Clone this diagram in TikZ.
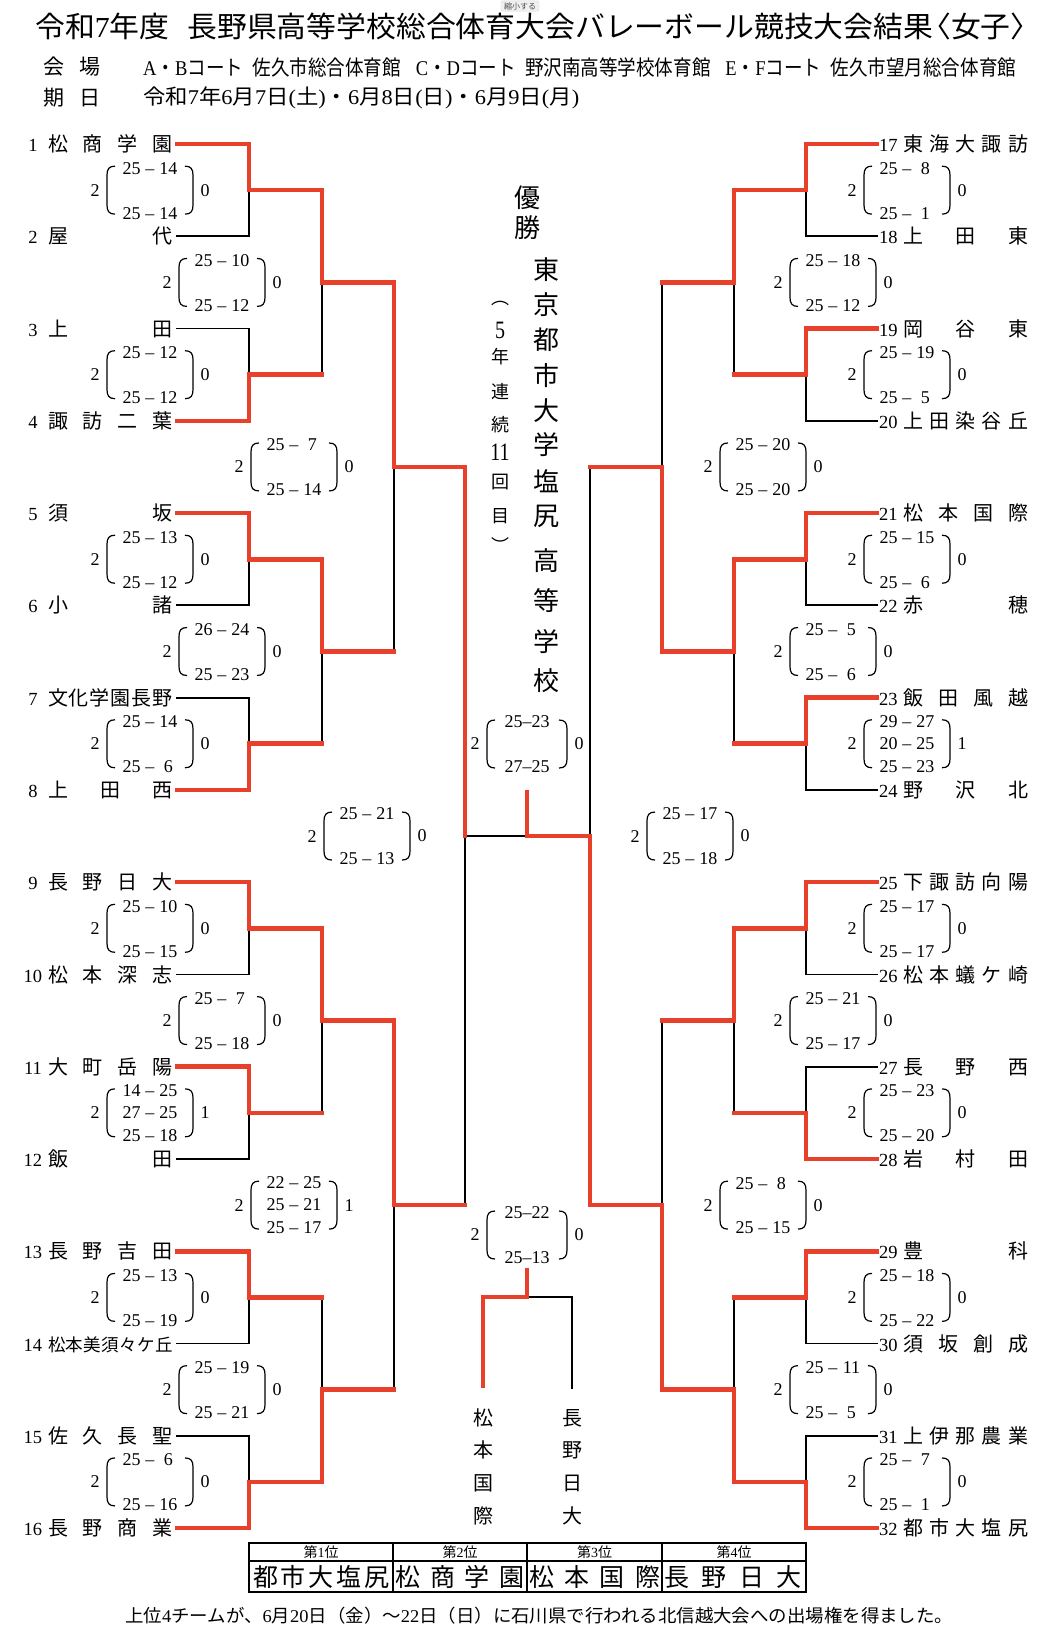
\documentclass[tikz,border=0pt]{standalone}
\usepackage{fontspec}
\usepackage{graphicx}
\setmainfont{Noto Sans CJK JP}
\newfontfamily\lat{Liberation Serif}
\usetikzlibrary{calc}
\definecolor{wred}{HTML}{E8402A}
\newcommand\tnum[1]{\makebox[20pt][c]{\lat\fontsize{18.5}{20}\selectfont #1}}
\newcommand\tnumr[1]{\makebox[20pt][l]{\lat\fontsize{18.5}{20}\selectfont #1}}
\newcommand\tname[1]{\makebox[125pt][s]{#1}}
\newcommand\sset[2]{\makebox[1em][c]{#1}\hspace{5pt}–\hspace{5pt}\makebox[1em][c]{#2}}
\def\po{43}\def\no{55}
\newcommand\parens{%
 \draw[paren] (-\po+8,-24) .. controls (-\po+2,-24) and (-\po,-21) .. (-\po,-15) -- (-\po,15) .. controls (-\po,21) and (-\po+2,24) .. (-\po+8,24);
 \draw[paren] (\po-8,-24) .. controls (\po-2,-24) and (\po,-21) .. (\po,-15) -- (\po,15) .. controls (\po,21) and (\po-2,24) .. (\po-8,24);}
\newcommand\scoreB[6]{\begin{scope}[shift={(#2,#3)}]
 \node[sc] (#1a) at (0,-22) {#4};
 \node[sc] (#1b) at (0,23) {#5};
 \node[sc] (#1l) at (-\no,0) {2};
 \node[sc] (#1r) at (\no,0) {#6};
 \parens
\end{scope}}
\newcommand\scoreC[7]{\begin{scope}[shift={(#2,#3)}]
 \node[sc] (#1a) at (0,-22) {#4};
 \node[sc] (#1b) at (0,0) {#5};
 \node[sc] (#1c) at (0,23) {#6};
 \node[sc] (#1l) at (-\no,0) {2};
 \node[sc] (#1r) at (\no,0) {#7};
 \parens
\end{scope}}
\tikzset{
 win/.style={draw=wred, line width=4.6pt, line cap=rect, line join=miter},
 lose/.style={draw=black, line width=1.8pt, line cap=rect},
 teamL/.style={anchor=east, inner xsep=4pt, inner ysep=0pt, outer sep=0pt, text height=16.6pt, text depth=1.4pt, font=\fontsize{20}{24}\selectfont},
 teamR/.style={anchor=west, inner xsep=2pt, inner ysep=0pt, outer sep=0pt, text height=16.6pt, text depth=1.4pt, font=\fontsize{20}{24}\selectfont},
 sc/.style={font=\lat\fontsize{18}{20}\selectfont, inner sep=0pt},
 paren/.style={draw=black, line width=1.2pt},
 vt/.style={font=\fontsize{26}{26}\selectfont, inner sep=0pt},
 vs/.style={font=\fontsize{18}{18}\selectfont, inner sep=0pt},
 vd/.style={font=\lat\fontsize{25}{25}\selectfont, inner sep=0pt},
 v3/.style={font=\fontsize{20}{20}\selectfont, inner sep=0pt},
 hd/.style={font=\fontsize{21}{24}\selectfont, inner sep=0pt},
 thd/.style={font=\fontsize{14}{16}\selectfont, inner sep=0pt},
 trw/.style={font=\fontsize{25}{27}\selectfont, inner sep=0pt},
}
\begin{document}
\begin{tikzpicture}[x=1pt,y=-1pt]
\useasboundingbox (0,0) rectangle (1056,1634);
\fill[white] (0,0) rectangle (1056,1634);

% ---------- header ----------
\node[fill=gray!12, draw=gray!30, rounded corners=2pt, inner xsep=3pt, inner ysep=1.5pt, font=\fontsize{8}{9}\selectfont, text=gray!60!black] (btn) at (520,6) {縮小する};
\node[anchor=west, inner sep=0pt] (title) at (35,26) {\resizebox{992pt}{\height}{\fontsize{29}{31}\selectfont 令和{\lat 7}年度\hspace{0.6em}長野県高等学校総合体育大会バレーボール競技大会結果\kern-0.4em〈女子〉\kern-0.45em}};
\node[hd] (hk1) at (54,67) {会};
\node[hd] (hk2) at (90,67) {場};
\node[hd] (dk1) at (54,98) {期};
\node[hd] (dk2) at (90,98) {日};
\node[hd, anchor=west] (venue) at (143,67) {\resizebox{873pt}{\height}{{\lat A}・{\lat B}コート\hspace{0.5em}佐久市総合体育館\hspace{0.8em}{\lat C}・{\lat D}コート\hspace{0.5em}野沢南高等学校体育館\hspace{0.8em}{\lat E}・{\lat F}コート\hspace{0.5em}佐久市望月総合体育館}};
\node[hd, anchor=west] (dates) at (143,98) {\resizebox{436pt}{\height}{令和{\lat 7}年{\lat 6}月{\lat 7}日{\lat (}土{\lat )}・{\lat 6}月{\lat 8}日{\lat (}日{\lat )}・{\lat 6}月{\lat 9}日{\lat (}月{\lat )}}};

% ---------- teams left ----------
\node[teamL] (tL1) at (177,144.00) {\tnum{1}\hspace{5pt}\tname{松\hfill 商\hfill 学\hfill 園}};
\node[teamL] (tL2) at (177,236.27) {\tnum{2}\hspace{5pt}\tname{屋\hfill 代}};
\node[teamL] (tL3) at (177,328.54) {\tnum{3}\hspace{5pt}\tname{上\hfill 田}};
\node[teamL] (tL4) at (177,420.81) {\tnum{4}\hspace{5pt}\tname{諏\hfill 訪\hfill 二\hfill 葉}};
\node[teamL] (tL5) at (177,513.08) {\tnum{5}\hspace{5pt}\tname{須\hfill 坂}};
\node[teamL] (tL6) at (177,605.35) {\tnum{6}\hspace{5pt}\tname{小\hfill 諸}};
\node[teamL] (tL7) at (177,697.62) {\tnum{7}\hspace{5pt}\tname{文\hfill 化\hfill 学\hfill 園\hfill 長\hfill 野}};
\node[teamL] (tL8) at (177,789.89) {\tnum{8}\hspace{5pt}\tname{上\hfill 田\hfill 西}};
\node[teamL] (tL9) at (177,882.16) {\tnum{9}\hspace{5pt}\tname{長\hfill 野\hfill 日\hfill 大}};
\node[teamL] (tL10) at (177,974.43) {\tnum{10}\hspace{5pt}\tname{松\hfill 本\hfill 深\hfill 志}};
\node[teamL] (tL11) at (177,1066.70) {\tnum{11}\hspace{5pt}\tname{大\hfill 町\hfill 岳\hfill 陽}};
\node[teamL] (tL12) at (177,1158.97) {\tnum{12}\hspace{5pt}\tname{飯\hfill 田}};
\node[teamL] (tL13) at (177,1251.24) {\tnum{13}\hspace{5pt}\tname{長\hfill 野\hfill 吉\hfill 田}};
\node[teamL] (tL14) at (177,1343.51) {\tnum{14}\hspace{5pt}\tname{\fontsize{17.5}{20}\selectfont 松\hfill 本\hfill 美\hfill 須\hfill 々\hfill ケ\hfill 丘}};
\node[teamL] (tL15) at (177,1435.78) {\tnum{15}\hspace{5pt}\tname{佐\hfill 久\hfill 長\hfill 聖}};
\node[teamL] (tL16) at (177,1528.05) {\tnum{16}\hspace{5pt}\tname{長\hfill 野\hfill 商\hfill 業}};

% ---------- teams right ----------
\node[teamR] (tR17) at (877,144.00) {\tnumr{17}\hspace{4pt}\tname{東\hfill 海\hfill 大\hfill 諏\hfill 訪}};
\node[teamR] (tR18) at (877,236.27) {\tnumr{18}\hspace{4pt}\tname{上\hfill 田\hfill 東}};
\node[teamR] (tR19) at (877,328.54) {\tnumr{19}\hspace{4pt}\tname{岡\hfill 谷\hfill 東}};
\node[teamR] (tR20) at (877,420.81) {\tnumr{20}\hspace{4pt}\tname{上\hfill 田\hfill 染\hfill 谷\hfill 丘}};
\node[teamR] (tR21) at (877,513.08) {\tnumr{21}\hspace{4pt}\tname{松\hfill 本\hfill 国\hfill 際}};
\node[teamR] (tR22) at (877,605.35) {\tnumr{22}\hspace{4pt}\tname{赤\hfill 穂}};
\node[teamR] (tR23) at (877,697.62) {\tnumr{23}\hspace{4pt}\tname{飯\hfill 田\hfill 風\hfill 越}};
\node[teamR] (tR24) at (877,789.89) {\tnumr{24}\hspace{4pt}\tname{野\hfill 沢\hfill 北}};
\node[teamR] (tR25) at (877,882.16) {\tnumr{25}\hspace{4pt}\tname{下\hfill 諏\hfill 訪\hfill 向\hfill 陽}};
\node[teamR] (tR26) at (877,974.43) {\tnumr{26}\hspace{4pt}\tname{松\hfill 本\hfill 蟻\hfill ケ\hfill 崎}};
\node[teamR] (tR27) at (877,1066.70) {\tnumr{27}\hspace{4pt}\tname{長\hfill 野\hfill 西}};
\node[teamR] (tR28) at (877,1158.97) {\tnumr{28}\hspace{4pt}\tname{岩\hfill 村\hfill 田}};
\node[teamR] (tR29) at (877,1251.24) {\tnumr{29}\hspace{4pt}\tname{豊\hfill 科}};
\node[teamR] (tR30) at (877,1343.51) {\tnumr{30}\hspace{4pt}\tname{須\hfill 坂\hfill 創\hfill 成}};
\node[teamR] (tR31) at (877,1435.78) {\tnumr{31}\hspace{4pt}\tname{上\hfill 伊\hfill 那\hfill 農\hfill 業}};
\node[teamR] (tR32) at (877,1528.05) {\tnumr{32}\hspace{4pt}\tname{都\hfill 市\hfill 大\hfill 塩\hfill 尻}};

% ---------- junctions ----------
\foreach \n/\yy in {1/190.14,2/374.68,3/559.22,4/743.76,5/928.30,6/1112.84,7/1297.38,8/1481.92}{
 \coordinate (LA\n) at (249,\yy); \coordinate (RA\n) at (806,\yy);}
\foreach \n/\yy in {1/282.41,2/651.49,3/1020.57,4/1389.65}{
 \coordinate (LB\n) at (322,\yy); \coordinate (RB\n) at (734,\yy);}
\coordinate (LC1) at (394,466.95); \coordinate (LC2) at (394,1205.11);
\coordinate (RC1) at (662,466.95); \coordinate (RC2) at (662,1205.11);
\coordinate (LD) at (465,836.03); \coordinate (RD) at (590,836.03);
\coordinate (F) at (527,836.03); \coordinate (Ft) at (527,792.5);
\coordinate (TJ) at (527,1297); \coordinate (TT) at (527,1270.5);
\coordinate (TL) at (483,1385.5); \coordinate (TR) at (572,1388);

% ---------- black (losing) lines ----------
\draw[lose] (tL2.east) -| (LA1);
\draw[lose] (tL3.east) -| (LA2);
\draw[lose] (tL6.east) -| (LA3);
\draw[lose] (tL7.east) -| (LA4);
\draw[lose] (tL10.east) -| (LA5);
\draw[lose] (tL12.east) -| (LA6);
\draw[lose] (tL14.east) -| (LA7);
\draw[lose] (tL15.east) -| (LA8);
\draw[lose] (LA2 -| LB1) -- (LB1);
\draw[lose] (LA4 -| LB2) -- (LB2);
\draw[lose] (LA6 -| LB3) -- (LB3);
\draw[lose] (LA7 -| LB4) -- (LB4);
\draw[lose] (LB2 -| LC1) -- (LC1);
\draw[lose] (LB4 -| LC2) -- (LC2);
\draw[lose] (LC2 -| LD) -- (LD);
\draw[lose] (LD) -- (F);

\draw[lose] (tR18.west) -| (RA1);
\draw[lose] (tR20.west) -| (RA2);
\draw[lose] (tR22.west) -| (RA3);
\draw[lose] (tR24.west) -| (RA4);
\draw[lose] (tR26.west) -| (RA5);
\draw[lose] (tR27.west) -| (RA6);
\draw[lose] (tR30.west) -| (RA7);
\draw[lose] (tR31.west) -| (RA8);
\draw[lose] (RA2 -| RB1) -- (RB1);
\draw[lose] (RA4 -| RB2) -- (RB2);
\draw[lose] (RA6 -| RB3) -- (RB3);
\draw[lose] (RA7 -| RB4) -- (RB4);
\draw[lose] (RB1 -| RC1) -- (RC1);
\draw[lose] (RB3 -| RC2) -- (RC2);
\draw[lose] (RC1 -| RD) -- (RD);

\draw[lose] (TJ) -| (TR);

% ---------- red (winning) lines ----------
\draw[win] (tL1.east) -| (LA1) -- (LA1 -| LB1);
\draw[win] (tL4.east) -| (LA2) -- (LA2 -| LB1);
\draw[win] (tL5.east) -| (LA3) -- (LA3 -| LB2);
\draw[win] (tL8.east) -| (LA4) -- (LA4 -| LB2);
\draw[win] (tL9.east) -| (LA5) -- (LA5 -| LB3);
\draw[win] (tL11.east) -| (LA6) -- (LA6 -| LB3);
\draw[win] (tL13.east) -| (LA7) -- (LA7 -| LB4);
\draw[win] (tL16.east) -| (LA8) -- (LA8 -| LB4);
\draw[win] (LA1 -| LB1) -- (LB1) -- (LB1 -| LC1);
\draw[win] (LA3 -| LB2) -- (LB2) -- (LB2 -| LC1);
\draw[win] (LA5 -| LB3) -- (LB3) -- (LB3 -| LC2);
\draw[win] (LA8 -| LB4) -- (LB4) -- (LB4 -| LC2);
\draw[win] (LB1 -| LC1) -- (LC1) -- (LC1 -| LD);
\draw[win] (LB3 -| LC2) -- (LC2) -- (LC2 -| LD);
\draw[win] (LC1 -| LD) -- (LD);

\draw[win] (tR17.west) -| (RA1) -- (RA1 -| RB1);
\draw[win] (tR19.west) -| (RA2) -- (RA2 -| RB1);
\draw[win] (tR21.west) -| (RA3) -- (RA3 -| RB2);
\draw[win] (tR23.west) -| (RA4) -- (RA4 -| RB2);
\draw[win] (tR25.west) -| (RA5) -- (RA5 -| RB3);
\draw[win] (tR28.west) -| (RA6) -- (RA6 -| RB3);
\draw[win] (tR29.west) -| (RA7) -- (RA7 -| RB4);
\draw[win] (tR32.west) -| (RA8) -- (RA8 -| RB4);
\draw[win] (RA1 -| RB1) -- (RB1) -- (RB1 -| RC1);
\draw[win] (RA3 -| RB2) -- (RB2) -- (RB2 -| RC1);
\draw[win] (RA5 -| RB3) -- (RB3) -- (RB3 -| RC2);
\draw[win] (RA8 -| RB4) -- (RB4) -- (RB4 -| RC2);
\draw[win] (RB2 -| RC1) -- (RC1) -- (RC1 -| RD);
\draw[win] (RB4 -| RC2) -- (RC2) -- (RC2 -| RD);
\draw[win] (RC2 -| RD) -- (RD) -- (F) -- (Ft);

\draw[win] (TL) |- (TJ) -- (TT);

% ---------- scores ----------
\scoreB{s1}{150}{190.14}{\sset{25}{14}}{\sset{25}{14}}{0}
\scoreB{s2}{150}{374.68}{\sset{25}{12}}{\sset{25}{12}}{0}
\scoreB{s3}{150}{559.22}{\sset{25}{13}}{\sset{25}{12}}{0}
\scoreB{s4}{150}{743.76}{\sset{25}{14}}{\sset{25}{6}}{0}
\scoreB{s5}{150}{928.30}{\sset{25}{10}}{\sset{25}{15}}{0}
\scoreC{s6}{150}{1112.84}{\sset{14}{25}}{\sset{27}{25}}{\sset{25}{18}}{1}
\scoreB{s7}{150}{1297.38}{\sset{25}{13}}{\sset{25}{19}}{0}
\scoreB{s8}{150}{1481.92}{\sset{25}{6}}{\sset{25}{16}}{0}
\scoreB{s9}{222}{282.41}{\sset{25}{10}}{\sset{25}{12}}{0}
\scoreB{s10}{222}{651.49}{\sset{26}{24}}{\sset{25}{23}}{0}
\scoreB{s11}{222}{1020.57}{\sset{25}{7}}{\sset{25}{18}}{0}
\scoreB{s12}{222}{1389.65}{\sset{25}{19}}{\sset{25}{21}}{0}
\scoreB{s13}{294}{466.95}{\sset{25}{7}}{\sset{25}{14}}{0}
\scoreC{s14}{294}{1205.11}{\sset{22}{25}}{\sset{25}{21}}{\sset{25}{17}}{1}
\scoreB{s15}{367}{836.03}{\sset{25}{21}}{\sset{25}{13}}{0}
\scoreB{s16}{907}{190.14}{\sset{25}{8}}{\sset{25}{1}}{0}
\scoreB{s17}{907}{374.68}{\sset{25}{19}}{\sset{25}{5}}{0}
\scoreB{s18}{907}{559.22}{\sset{25}{15}}{\sset{25}{6}}{0}
\scoreC{s19}{907}{743.76}{\sset{29}{27}}{\sset{20}{25}}{\sset{25}{23}}{1}
\scoreB{s20}{907}{928.30}{\sset{25}{17}}{\sset{25}{17}}{0}
\scoreB{s21}{907}{1112.84}{\sset{25}{23}}{\sset{25}{20}}{0}
\scoreB{s22}{907}{1297.38}{\sset{25}{18}}{\sset{25}{22}}{0}
\scoreB{s23}{907}{1481.92}{\sset{25}{7}}{\sset{25}{1}}{0}
\scoreB{s24}{833}{282.41}{\sset{25}{18}}{\sset{25}{12}}{0}
\scoreB{s25}{833}{651.49}{\sset{25}{5}}{\sset{25}{6}}{0}
\scoreB{s26}{833}{1020.57}{\sset{25}{21}}{\sset{25}{17}}{0}
\scoreB{s27}{833}{1389.65}{\sset{25}{11}}{\sset{25}{5}}{0}
\scoreB{s28}{763}{466.95}{\sset{25}{20}}{\sset{25}{20}}{0}
\scoreB{s29}{763}{1205.11}{\sset{25}{8}}{\sset{25}{15}}{0}
\scoreB{s30}{690}{836.03}{\sset{25}{17}}{\sset{25}{18}}{0}
\def\po{40}\def\no{52}
\scoreB{s31}{527}{744}{25–23}{27–25}{0}
\scoreB{s32}{527}{1235}{25–22}{25–13}{0}

% ---------- champion ----------
\node[vt] (yu) at (527,198) {優};
\node[vt] (sho) at (527,228) {勝};
\foreach \c/\yy [count=\i] in {東/270,京/305,都/340,市/376,大/411,学/445,塩/481,尻/516,高/561,等/601,学/642,校/681}
 \node[vt] (ch\i) at (546,\yy) {\c};
\node[vs] (pa1) at (500,303) {︵};
\node[vd] (pa2) at (500,330) {\scalebox{0.8}[1]{5}};
\node[vs] (pa3) at (500,357) {年};
\node[vs] (pa4) at (500,392) {連};
\node[vs] (pa5) at (500,425) {続};
\node[vd] (pa6) at (500,452) {\scalebox{0.8}[1]{11}};
\node[vs] (pa7) at (500,482) {回};
\node[vs] (pa8) at (500,516) {目};
\node[vs] (pa9) at (500,545) {︶};

% ---------- third place labels ----------
\foreach \c/\yy [count=\i] in {松/1418,本/1450,国/1483,際/1516}
 \node[v3] (mk\i) at (483,\yy) {\c};
\foreach \c/\yy [count=\i] in {長/1418,野/1450,日/1483,大/1516}
 \node[v3] (nn\i) at (572,\yy) {\c};

% ---------- result table ----------
\draw[line width=1.5pt] (249,1561) -- (806,1561);
\foreach \xx in {393,527,662} \draw[line width=1.6pt] (\xx,1543) -- (\xx,1592);
\draw[line width=2pt] (249,1543) rectangle (806,1592);
\node[thd] (h1) at (321,1552) {第{\lat 1}位};
\node[thd] (h2) at (460,1552) {第{\lat 2}位};
\node[thd] (h3) at (594.5,1552) {第{\lat 3}位};
\node[thd] (h4) at (734,1552) {第{\lat 4}位};
\node[trw] (w1) at (321,1577) {\makebox[136pt][s]{都\hfill 市\hfill 大\hfill 塩\hfill 尻}};
\node[trw] (w2) at (460,1577) {\makebox[129pt][s]{松\hfill 商\hfill 学\hfill 園}};
\node[trw] (w3) at (594.5,1577) {\makebox[131pt][s]{松\hfill 本\hfill 国\hfill 際}};
\node[trw] (w4) at (733,1577) {\makebox[137pt][s]{長\hfill 野\hfill 日\hfill 大}};

\node[font=\fontsize{18}{20}\selectfont, inner sep=0, anchor=west] (note) at (125,1616) {\resizebox{828pt}{\height}{上位{\lat 4}チームが、{\lat 6}月{\lat 20}日（金）～{\lat 22}日（日）に石川県で行われる北信越大会への出場権を得ました。}};
\end{tikzpicture}
\end{document}
